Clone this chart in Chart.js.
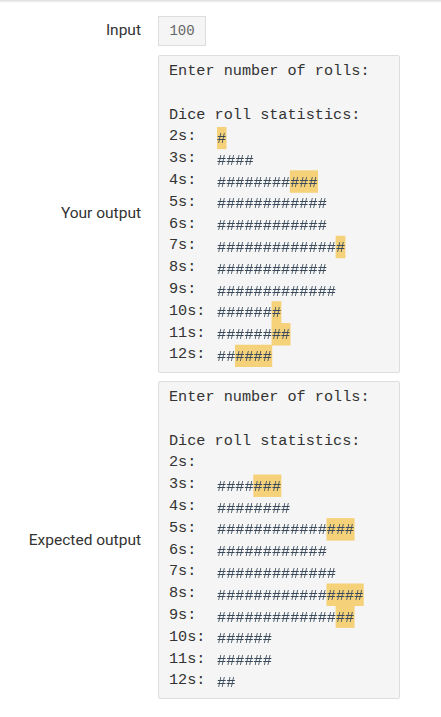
<!DOCTYPE html>
<html><head><meta charset="utf-8">
<script src="https://cdn.jsdelivr.net/npm/chart.js@4"></script>
<style>
body{margin:0;width:441px;height:717px;background:#fff;position:relative;font-family:Roboto,sans-serif;overflow:hidden}
.top{position:absolute;left:0;top:0;width:441px;height:3px;background:linear-gradient(#ddd,#fff)}
.lab{position:absolute;right:300px;font-size:15.5px;color:#333;white-space:nowrap}
.box{position:absolute;left:158px;width:240px;background:#f5f5f5;border:1px solid #ddd;border-radius:2px}
pre{position:absolute;left:10px;margin:0;font-family:"Liberation Mono",monospace;font-size:15.2px;line-height:21.8px;color:#333}
.cv{position:absolute;left:58px;width:182px;height:240px}
.inp{position:absolute;left:158px;top:16px;width:48px;height:30px;box-sizing:border-box;border:1px solid #ddd;background:#f5f5f5;font-family:"Liberation Mono",monospace;font-size:14px;color:#666;line-height:28px;text-align:center}
</style></head><body>
<div class="top"></div>
<div class="lab" style="top:21px">Input</div>
<div class="inp">100</div>
<div class="lab" style="top:204px">Your output</div>
<div class="box" style="top:55px;height:316px"><pre id="p1" style="top:5px"></pre><div class="cv" style="top:71px"><canvas id="c1"></canvas></div></div>
<div class="lab" style="top:531px">Expected output</div>
<div class="box" style="top:381px;height:316px"><pre id="p2" style="top:5px"></pre><div class="cv" style="top:71px"><canvas id="c2"></canvas></div></div>
<script>
const categories=["2s","3s","4s","5s","6s","7s","8s","9s","10s","11s","12s"];
const yourMatched=[0,4,8,12,12,13,12,13,6,6,2];
const yourDiff=[1,0,3,0,0,1,0,0,1,2,4];
const expMatched=[0,4,8,12,12,13,12,13,6,6,2];
const expDiff=[0,3,0,3,0,0,4,2,0,0,0];
const header=["Enter number of rolls:","","Dice roll statistics:"];
const hl="#f5d27a";

function fillPre(id){
  document.getElementById(id).textContent=header.concat(categories.map(c=>c+":")).join("\n");
}
fillPre("p1");fillPre("p2");

function hashPlugin(m,d){return {id:"hashes",afterDatasetsDraw(chart){
  const ctx=chart.ctx,xs=chart.scales.x,ys=chart.scales.y;
  ctx.save();ctx.font='15.2px "Liberation Mono", monospace';ctx.fillStyle="#3a4a5a";
  ctx.textAlign="center";ctx.textBaseline="middle";
  categories.forEach((c,i)=>{
    const n=m[i]+d[i],y=ys.getPixelForValue(i);
    for(let k=0;k<n;k++)ctx.fillText("#",xs.getPixelForValue(k+0.5),y+1);
  });
  ctx.restore();
}};}

function make(id,m,d){
  const data=categories.map((c,i)=>d[i]>0?[m[i],m[i]+d[i]]:null);
  new Chart(document.getElementById(id),{
    type:"bar",
    data:{labels:categories,datasets:[{data:data,backgroundColor:hl,borderWidth:0}]},
    options:{indexAxis:"y",responsive:true,maintainAspectRatio:false,animation:false,
      layout:{padding:0},
      datasets:{bar:{barPercentage:1,categoryPercentage:1,borderWidth:0}},
      plugins:{legend:{display:false},tooltip:{enabled:false}},
      scales:{x:{display:false,min:0,max:182/9.15},y:{display:false}}},
    plugins:[hashPlugin(m,d)]});
}
make("c1",yourMatched,yourDiff);
make("c2",expMatched,expDiff);
</script></body></html>
